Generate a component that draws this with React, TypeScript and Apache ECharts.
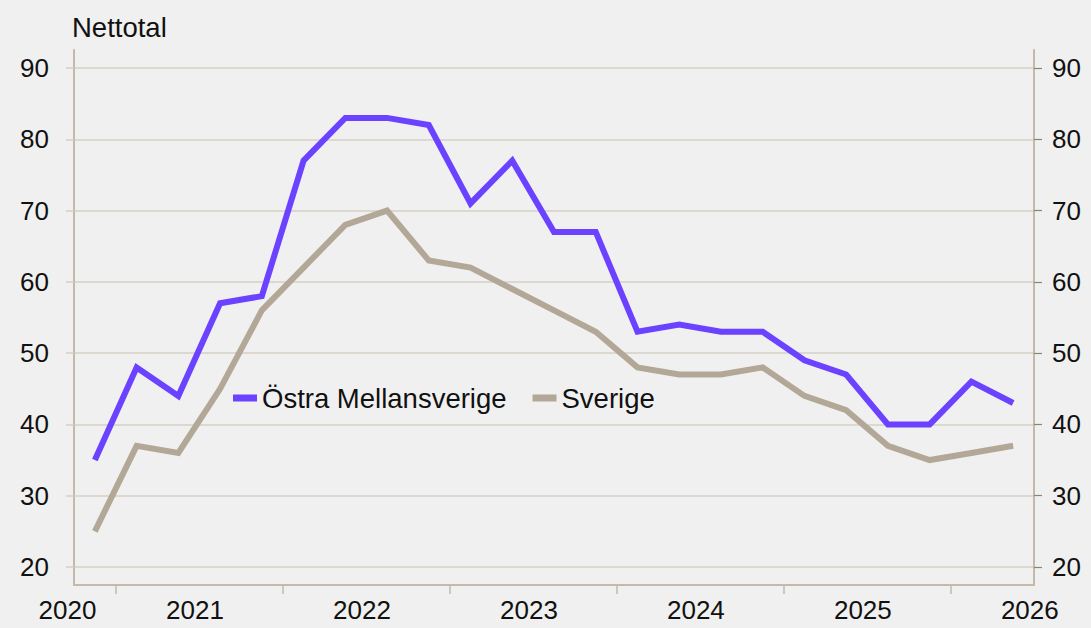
import React, { useEffect, useRef } from "react";
import * as echarts from "echarts";

const quarters = [
  "2020 K4",
  "2021 K1", "2021 K2", "2021 K3", "2021 K4",
  "2022 K1", "2022 K2", "2022 K3", "2022 K4",
  "2023 K1", "2023 K2", "2023 K3", "2023 K4",
  "2024 K1", "2024 K2", "2024 K3", "2024 K4",
  "2025 K1", "2025 K2", "2025 K3", "2025 K4",
  "2026 K1", "2026 K2",
];
const ostraMellansverige = [35, 48, 44, 57, 58, 77, 83, 83, 82, 71, 77, 67, 67, 53, 54, 53, 53, 49, 47, 40, 40, 46, 43];
const sverige = [25, 37, 36, 45, 56, 62, 68, 70, 63, 62, 59, 56, 53, 48, 47, 47, 48, 44, 42, 37, 35, 36, 37];
const years = ["2020", "2021", "2022", "2023", "2024", "2025", "2026"];
const yMin = 20;
const yMax = 90;
const yInterval = 10;
const yAxisTitle = "Nettotal";

const FONT = "'Liberation Sans', Arial, Helvetica, sans-serif";
const PURPLE = "#6a42ff";
const BEIGE = "#b3a897";
const GRID = "#d6cfc4";
const FRAME = "#c3baab";

export default function App() {
  const ref = useRef<HTMLDivElement>(null);
  useEffect(() => {
    if (!ref.current) return;
    const chart = echarts.init(ref.current, null, { renderer: "svg" });
    const n = quarters.length;
    const tickVals: number[] = [];
    quarters.forEach((q, i) => {
      if (q.endsWith("K1")) tickVals.push(i - 0.5);
    });
    const labelVals = years.map((y) => {
      const first = quarters.findIndex((q) => q.startsWith(y));
      const q = Number(quarters[first].slice(-1));
      const start = first - (q - 1);
      const mid = start + 1.5 - 0.1;
      return Math.min(n - 0.5, Math.max(-0.5, mid));
    });
    const yearOf = (v: number) => {
      const idx = Math.min(n - 1, Math.max(0, Math.round(v)));
      const y = quarters[idx].slice(0, 4);
      return v <= -0.5 ? `{first|${y}}` : y;
    };
    const left = 74;
    const right = 57;
    chart.setOption({
      animation: false,
      backgroundColor: "#f0f0f0",
      textStyle: { fontFamily: FONT },
      title: {
        text: yAxisTitle,
        left: 72,
        top: 13,
        padding: 0,
        textStyle: { fontFamily: FONT, fontSize: 27.5, fontWeight: "normal", color: "#111" },
      },
      legend: {
        data: ["Östra Mellansverige", "Sverige"],
        left: 233,
        top: 384,
        padding: 0,
        icon: "rect",
        itemWidth: 24,
        itemHeight: 7,
        itemGap: 26,
        textStyle: { fontFamily: FONT, fontSize: 27.5, color: "#111" },
      },
      grid: [
        { left, right, top: 68, bottom: 61 },
        { left, right, top: 50, bottom: 43 },
      ],
      xAxis: [
        {
          gridIndex: 0,
          type: "category",
          data: quarters,
          boundaryGap: true,
          show: false,
        },
        {
          gridIndex: 1,
          type: "value",
          min: -0.5,
          max: n - 0.5,
          axisLine: { show: true, onZero: false, lineStyle: { color: FRAME, width: 2 } },
          axisTick: { show: true, customValues: tickVals, length: 9, lineStyle: { color: FRAME, width: 1.5 } },
          axisLabel: {
            show: true,
            customValues: labelVals,
            formatter: (v: number) => yearOf(v),
            margin: 12,
            fontFamily: FONT,
            fontSize: 26,
            color: "#111",
            rich: {
              first: { fontFamily: FONT, fontSize: 26, color: "#111", padding: [0, 13, 0, 0] },
            },
          },
          splitLine: { show: false },
        },
      ],
      yAxis: [
        {
          gridIndex: 0,
          type: "value",
          position: "left",
          min: yMin,
          max: yMax,
          interval: yInterval,
          axisLine: { show: false },
          axisTick: { show: true, length: 8, lineStyle: { color: GRID, width: 1.5 } },
          axisLabel: { margin: 25, fontFamily: FONT, fontSize: 26, color: "#111" },
          splitLine: { show: true, lineStyle: { color: GRID, width: 1.5 } },
        },
        {
          gridIndex: 0,
          type: "value",
          position: "right",
          min: yMin,
          max: yMax,
          interval: yInterval,
          axisLine: { show: false },
          axisTick: { show: true, length: 8, lineStyle: { color: "#8a8478", width: 1.2 } },
          axisLabel: { margin: 18, fontFamily: FONT, fontSize: 26, color: "#111" },
          splitLine: { show: false },
        },
        {
          gridIndex: 1,
          type: "value",
          position: "left",
          min: 0,
          max: 1,
          axisLine: { show: true, onZero: false, lineStyle: { color: FRAME, width: 2 } },
          axisTick: { show: false },
          axisLabel: { show: false },
          splitLine: { show: false },
        },
        {
          gridIndex: 1,
          type: "value",
          position: "right",
          min: 0,
          max: 1,
          axisLine: { show: true, onZero: false, lineStyle: { color: FRAME, width: 2 } },
          axisTick: { show: false },
          axisLabel: { show: false },
          splitLine: { show: false },
        },
      ],
      series: [
        {
          name: "Sverige",
          type: "line",
          xAxisIndex: 0,
          yAxisIndex: 0,
          data: sverige,
          symbol: "none",
          lineStyle: { color: BEIGE, width: 6, join: "miter" },
          itemStyle: { color: BEIGE },
        },
        {
          name: "Östra Mellansverige",
          type: "line",
          xAxisIndex: 0,
          yAxisIndex: 0,
          data: ostraMellansverige,
          symbol: "none",
          lineStyle: { color: PURPLE, width: 6, join: "miter" },
          itemStyle: { color: PURPLE },
        },
      ],
    });
    return () => chart.dispose();
  }, []);
  return (
    <div
      ref={ref}
      style={{ position: "fixed", left: 0, top: 0, width: 1091, height: 628 }}
    />
  );
}
